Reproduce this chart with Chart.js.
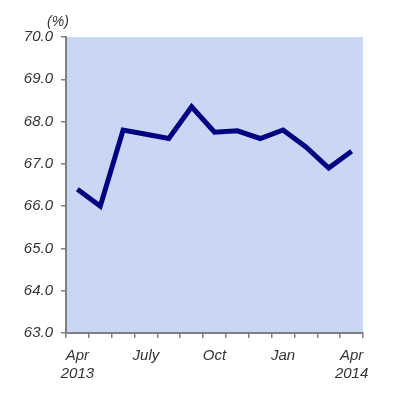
<!DOCTYPE html>
<html>
<head>
<meta charset="utf-8">
<script src="https://cdn.jsdelivr.net/npm/chart.js@4"></script>
<style>
  html, body { margin: 0; padding: 0; background: #fff; }
  #wrap { width: 403px; height: 398px; }
</style>
</head>
<body>
<div id="wrap"><canvas id="chart" width="403" height="398"></canvas></div>
<script>
// Months Apr 2013 .. Apr 2014
const months = ['Apr 2013', 'May', 'Jun', 'Jul', 'Aug', 'Sep', 'Oct', 'Nov', 'Dec', 'Jan', 'Feb', 'Mar', 'Apr 2014'];
// only some months get a visible label
const monthLabels = [['Apr', '2013'], '', '', 'July', '', '', 'Oct', '', '', 'Jan', '', '', ['Apr', '2014']];
const rate = [66.4, 66.0, 67.8, 67.7, 67.6, 68.35, 67.75, 67.78, 67.6, 67.8, 67.4, 66.9, 67.3];
const yMin = 63;
const yMax = 70;
const unitLabel = '(%)';

const axisGrey = '#808080';
const textColor = '#333333';
const tickFont = { family: 'Liberation Sans', size: 15, style: 'italic' };

// light blue plot area + the "(%)" note over the y axis
const plotBackground = {
    id: 'plotBackground',
    beforeDraw(chart) {
        const { ctx, chartArea } = chart;
        ctx.save();
        ctx.fillStyle = '#c9d6f4';
        ctx.fillRect(chartArea.left, chartArea.top, chartArea.right - chartArea.left, chartArea.bottom - chartArea.top);
        ctx.restore();
    },
    afterDraw(chart) {
        const { ctx, chartArea } = chart;
        ctx.save();
        ctx.font = 'italic 14px "Liberation Sans"';
        ctx.fillStyle = textColor;
        ctx.textAlign = 'center';
        ctx.textBaseline = 'middle';
        ctx.fillText(unitLabel, chartArea.left - 8, chartArea.top - 15);
        ctx.restore();
    }
};

new Chart(document.getElementById('chart'), {
    type: 'line',
    data: {
        labels: months,
        datasets: [{
            data: rate,
            borderColor: '#000080',
            borderWidth: 5,
            pointRadius: 0,
            tension: 0,
            fill: false
        }]
    },
    options: {
        responsive: false,
        animation: false,
        layout: { padding: { top: 37, right: 40, left: 0, bottom: 0 } },
        plugins: { legend: { display: false }, tooltip: { enabled: false } },
        scales: {
            x: {
                offset: true,
                grid: { offset: true, drawOnChartArea: false, drawTicks: true, tickLength: 5, color: axisGrey, lineWidth: 1.5 },
                border: { display: true, color: axisGrey, width: 2 },
                ticks: {
                    autoSkip: false,
                    maxRotation: 0,
                    padding: 9,
                    color: textColor,
                    font: tickFont,
                    callback: (v, i) => monthLabels[i]
                },
                afterFit: (scale) => { scale.height = 65; }
            },
            y: {
                min: yMin,
                max: yMax,
                grid: { drawOnChartArea: false, drawTicks: true, tickLength: 5, color: axisGrey, lineWidth: 1.5 },
                border: { display: true, color: axisGrey, width: 2 },
                ticks: {
                    stepSize: 1,
                    padding: 8,
                    color: textColor,
                    font: tickFont,
                    callback: (v) => v.toFixed(1)
                },
                afterFit: (scale) => { scale.width = 66; }
            }
        }
    },
    plugins: [plotBackground]
});
</script>
</body>
</html>
